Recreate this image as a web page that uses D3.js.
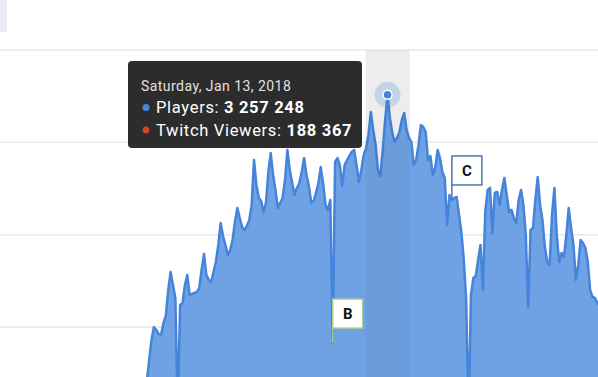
<!DOCTYPE html>
<html>
<head>
<meta charset="utf-8">
<script src="https://cdn.jsdelivr.net/npm/d3@7"></script>
<style>
  body { margin: 0; background: #fff; }
  svg { display: block; font-family: Roboto, "Noto Sans", sans-serif; }
</style>
</head>
<body>
<div id="here"></div>
<script>
// DATA
// first day of the series, one value per day after it
const startDay = "2017-10-01";
const players = [
  1442000, 1523000, 1605000, 1702000, 1821000, 1930000, 2000000, 1984000, 1962000, 1957000,
  2022000, 2060000, 2200000, 2298000, 2227000, 2157000, 1551000, 2119000, 2130000, 2227000,
  2282000, 2173000, 2179000, 2184000, 2190000, 2211000, 2309000, 2395000, 2282000, 2255000,
  2244000, 2298000, 2352000, 2444000, 2563000, 2493000, 2444000, 2390000, 2417000, 2471000,
  2569000, 2644000, 2590000, 2542000, 2525000, 2547000, 2579000, 2661000, 2904000, 2769000,
  2699000, 2682000, 2623000, 2672000, 2839000, 2942000, 2823000, 2742000, 2644000, 2672000,
  2699000, 2796000, 2959000, 2850000, 2780000, 2715000, 2753000, 2780000, 2839000, 2915000,
  2823000, 2764000, 2672000, 2682000, 2726000, 2780000, 2866000, 2774000, 2661000, 2634000,
  2688000, 1913000, 2894000, 2915000, 2877000, 2764000, 2877000, 2904000, 2926000, 2948000,
  2959000, 2877000, 2785000, 2850000, 2931000, 2969000, 3040000, 3164000, 3067000, 2986000,
  2850000, 2818000, 2959000, 3121000, 3257248, 3132000, 3051000, 3002000, 3024000, 3056000,
  3121000, 3159000, 3067000, 3024000, 3002000, 2877000, 2904000, 2986000, 3094000, 3083000,
  3056000, 2904000, 2926000, 2823000, 2861000, 2959000, 2915000, 2839000, 2807000, 2552000,
  2715000, 2688000, 2699000, 2704000, 2607000, 2509000, 2363000, 2146000, 1496000, 2173000,
  2265000, 2276000, 2363000, 2444000, 2200000, 2623000, 2742000, 2753000, 2509000, 2726000,
  2731000, 2661000, 2742000, 2807000, 2715000, 2623000, 2634000, 2590000, 2563000, 2688000,
  2742000, 2661000, 2498000, 2108000, 2525000, 2536000, 2688000, 2812000, 2661000, 2579000,
  2433000, 2352000, 2336000, 2607000, 2753000, 2498000, 2352000, 2401000, 2379000, 2498000,
  2644000, 2536000, 2444000, 2255000, 2336000, 2471000, 2455000, 2428000, 2352000, 2200000,
  2163000, 2157000, 2130000, 2119000
];

const yTicks = [2000000, 2500000, 3000000, 3500000];

// flags on the series
const flagDays = ["2017-12-21", "2018-02-09"];
const flagTitles = ["B", "C"];

// hovered point
const hoverDay = "2018-01-13";
const hoverPlayers = 3257248;
const hoverTwitch = 188367;

// Variable Declarations
const width = 598;
const height = 377;
const parseDay = d3.utcParse("%Y-%m-%d");
const start = parseDay(startDay);

const data = players.map(function(v, i) {
  return { date: d3.utcDay.offset(start, i), value: v };
});

const svg = d3.select("#here")
  .append("svg")
  .attr("width", width)
  .attr("height", height);

// scales
const x = d3.scaleUtc()
  .domain([parseDay("2017-10-01"), parseDay("2018-04-12")])
  .range([139.6, 599.7]);

const y = d3.scaleLinear()
  .domain([2000000, 3500000])
  .range([327, 50]);

// little lavender box in the corner
svg.append("rect")
  .attr("x", 0).attr("y", 0)
  .attr("width", 7).attr("height", 32)
  .attr("fill", "#ebe9f7");

// crosshair band (behind the series)
const hx = x(parseDay(hoverDay));
svg.append("rect")
  .attr("x", hx - 22)
  .attr("y", y(3500000))
  .attr("width", 44)
  .attr("height", height - y(3500000))
  .attr("fill", "#f5f5f5");

// grid lines
svg.append("g")
  .selectAll("line")
  .data(yTicks)
  .join("line")
  .attr("x1", 0).attr("x2", width)
  .attr("y1", d => y(d)).attr("y2", d => y(d))
  .attr("stroke", "#e9e9e9")
  .attr("stroke-width", 1.5);

// area + line
const area = d3.area()
  .x(d => x(d.date))
  .y0(y(1000000))
  .y1(d => y(d.value));

const line = d3.line()
  .x(d => x(d.date))
  .y(d => y(d.value));

svg.append("path")
  .datum(data)
  .attr("d", area)
  .attr("fill", "#6fa2e4");

svg.append("path")
  .datum(data)
  .attr("d", line)
  .attr("fill", "none")
  .attr("stroke", "#4584db")
  .attr("stroke-width", 2.5)
  .attr("stroke-linejoin", "round");

// light tint of the band over the series
svg.append("rect")
  .attr("x", hx - 22)
  .attr("y", y(3500000))
  .attr("width", 44)
  .attr("height", height - y(3500000))
  .attr("fill", "rgba(0,0,0,0.03)");

// flags
const flagColors = ["#a9cf8c", "#4b77b4"];
flagDays.forEach(function(day, i) {
  const dt = parseDay(day);
  const pt = data.find(d => +d.date === +dt);
  const fx = x(dt);
  const fy = y(pt.value);
  const g = svg.append("g");
  g.append("line")
    .attr("x1", fx).attr("x2", fx)
    .attr("y1", fy - 15).attr("y2", fy)
    .attr("stroke", flagColors[i])
    .attr("stroke-width", 1.5);
  g.append("rect")
    .attr("x", fx).attr("y", fy - 15 - 29)
    .attr("width", 30).attr("height", 29)
    .attr("fill", "#fff")
    .attr("stroke", flagColors[i])
    .attr("stroke-width", 1.5);
  g.append("text")
    .attr("x", fx + 15).attr("y", fy - 15 - 9)
    .attr("text-anchor", "middle")
    .attr("font-size", 15)
    .attr("font-weight", "bold")
    .attr("fill", "#111")
    .text(flagTitles[i]);
});

// hover marker
const hy = y(hoverPlayers);
svg.append("circle")
  .attr("cx", hx).attr("cy", hy).attr("r", 13)
  .attr("fill", "#4a86d8").attr("fill-opacity", 0.25);
svg.append("circle")
  .attr("cx", hx).attr("cy", hy).attr("r", 4.5)
  .attr("fill", "#4a86d8")
  .attr("stroke", "#fff").attr("stroke-width", 1.5);

// TOOLTIP
const fmt = d3.formatLocale({ decimal: ".", thousands: " ", grouping: [3], currency: ["", ""] }).format(",d");
const tip = svg.append("g");
tip.append("rect")
  .attr("x", 128).attr("y", 61)
  .attr("width", 234).attr("height", 87)
  .attr("rx", 4)
  .attr("fill", "#2c2c2c");

tip.append("text")
  .attr("x", 141).attr("y", 91)
  .attr("font-size", 14)
  .attr("letter-spacing", 0.45)
  .attr("fill", "#e2e2e2")
  .text(d3.utcFormat("%A, %b %-d, %Y")(parseDay(hoverDay)));

const rows = [
  { label: "Players: ", value: hoverPlayers, color: "#4a86d8" },
  { label: "Twitch Viewers: ", value: hoverTwitch, color: "#d9421c" }
];
rows.forEach(function(r, i) {
  const by = 113 + i * 22.5;
  tip.append("circle")
    .attr("cx", 146).attr("cy", by - 5.5).attr("r", 3.5)
    .attr("fill", r.color);
  const t = tip.append("text")
    .attr("x", 156).attr("y", by)
    .attr("font-size", 16.5)
    .attr("letter-spacing", 0.68)
    .attr("fill", "#fff");
  t.append("tspan").text(r.label);
  t.append("tspan").attr("font-weight", "bold").text(fmt(r.value));
});
</script>
</body>
</html>
